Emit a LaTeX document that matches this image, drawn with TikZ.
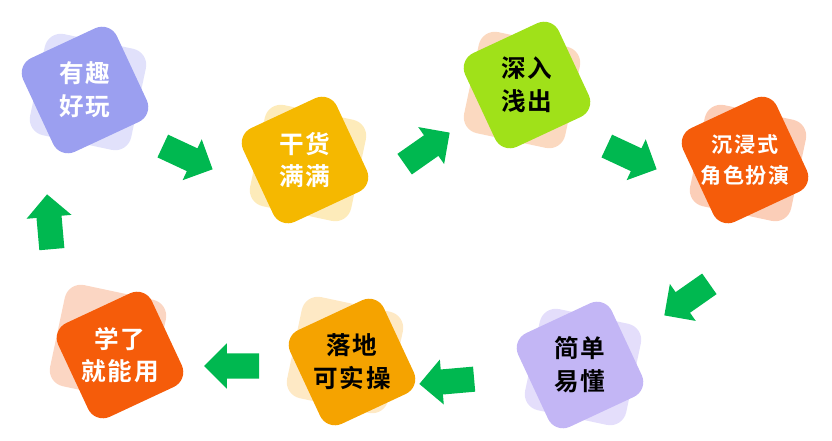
\documentclass[tikz,border=0pt]{standalone}
\usepackage{fontspec}
\setmainfont{Noto Sans CJK SC}[BoldFont=* Bold,LetterSpace=8]
\usetikzlibrary{shapes.arrows}
\definecolor{arrowgreen}{HTML}{00B850}
\tikzset{
  card/.style={rectangle, rounded corners=14pt, minimum size=3.1cm, inner sep=0pt},
  shade/.style={card, opacity=0.55},
  label/.style={align=center, font=\bfseries\fontsize{21}{28}\selectfont},
  step arrow/.style={single arrow, fill=arrowgreen, minimum height=1.65cm,
    inner xsep=0pt, inner ysep=0.37cm, single arrow head extend=0.3cm}
}
\begin{document}
\begin{tikzpicture}[x=0.03cm,y=-0.03cm]
  \useasboundingbox (0,0) rectangle (832,440);
  % cards: shadow, front, text
  \node[shade, fill={rgb,255:red,200;green,201;blue,247}, rotate=-12] (s1) at (88,92) {};
  \node[card, fill={rgb,255:red,155;green,159;blue,240}, rotate=25] (c1) at (85,90) {};
  \node[label, text=white] (t1) at (85,90) {有趣\\好玩};

  \node[shade, fill={rgb,255:red,252;green,218;blue,130}, rotate=-12] (s2) at (308,163) {};
  \node[card, fill={rgb,255:red,245;green,184;blue,0}, rotate=25] (c2) at (305,160) {};
  \node[label, text=white] (t2) at (305,160) {干货\\满满};

  \node[shade, fill={rgb,255:red,248;green,185;blue,140}, rotate=-12] (s3) at (522,90) {};
  \node[card, fill={rgb,255:red,160;green,225;blue,25}, rotate=25] (c3) at (527,85) {};
  \node[label, text=black] (t3) at (527,85) {深入\\浅出};

  \node[shade, fill={rgb,255:red,248;green,165;blue,125}, rotate=-12] (s4) at (748,163) {};
  \node[card, fill={rgb,255:red,245;green,92;blue,10}, rotate=25] (c4) at (745,160) {};
  \node[label, text=white, font=\bfseries\fontsize{18}{26}\selectfont] (t4) at (745,160) {沉浸式\\角色扮演};

  \node[shade, fill={rgb,255:red,205;green,195;blue,248}, rotate=-12] (s5) at (583,367) {};
  \node[card, fill={rgb,255:red,195;green,182;blue,245}, rotate=25] (c5) at (580,365) {};
  \node[label, text=black] (t5) at (580,365) {简单\\易懂};

  \node[shade, fill={rgb,255:red,253;green,215;blue,150}, rotate=-12] (s6) at (345,355) {};
  \node[card, fill={rgb,255:red,245;green,163;blue,0}, rotate=25] (c6) at (352,362) {};
  \node[label, text=black] (t6) at (352,362) {落地\\可实操};

  \node[shade, fill={rgb,255:red,248;green,180;blue,145}, rotate=-12] (s7) at (108,343) {};
  \node[card, fill={rgb,255:red,245;green,92;blue,10}, rotate=25] (c7) at (120,355) {};
  \node[label, text=white] (t7) at (120,355) {学了\\就能用};

  % arrows
  \node[step arrow, rotate=-25] (a1) at (182,155) {};
  \node[step arrow, rotate=35] (a2) at (422,152) {};
  \node[step arrow, rotate=-25] (a3) at (626,155) {};
  \node[step arrow, rotate=215] (a4) at (692,296) {};
  \node[step arrow, rotate=185] (a5) at (453,381) {};
  \node[step arrow, rotate=180] (a6) at (238,366) {};
  \node[step arrow, rotate=95] (a7) at (50,228) {};
\end{tikzpicture}
\end{document}
